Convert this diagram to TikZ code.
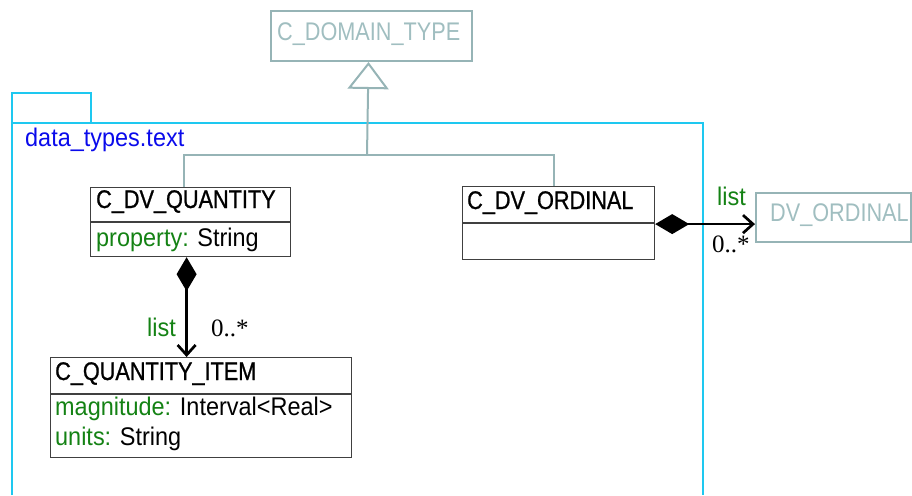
\documentclass[tikz,border=0pt]{standalone}
\usepackage{fontspec}
\setmainfont{Liberation Sans}
\newfontfamily\namefont[FakeStretch=0.85,FakeBold=0.9]{Liberation Sans}
\newfontfamily\ghostfont[FakeStretch=0.85]{Liberation Sans}
\newfontfamily\attrfont[FakeStretch=0.92]{Liberation Sans}
\newfontfamily\multfont{Liberation Serif}
\usetikzlibrary{arrows.meta,calc,positioning}
\definecolor{inhgray}{RGB}{150,180,182}
\definecolor{ghosttext}{RGB}{160,190,192}
\definecolor{pkgcyan}{RGB}{30,200,240}
\definecolor{pkgblue}{RGB}{10,10,235}
\definecolor{attrgreen}{RGB}{20,130,20}
\tikzset{
  clsbox/.style={draw=black!75,line width=1.2pt,inner sep=0pt,anchor=north west},
  ghostbox/.style={draw=inhgray,line width=2pt,inner sep=0pt,anchor=north west},
  clsname/.style={inner sep=0pt,anchor=base west,font=\namefont\fontsize{25.5}{30}\selectfont},
  ghostname/.style={inner sep=0pt,anchor=base west,text=ghosttext,font=\ghostfont\fontsize{25.5}{30}\selectfont},
  attr/.style={inner sep=0pt,anchor=base west,font=\attrfont\fontsize{25.5}{30}\selectfont},
  role/.style={attr,text=attrgreen},
  mult/.style={inner sep=0pt,anchor=base west,font=\multfont\fontsize{25}{30}\selectfont},
  divider/.style={draw=black!75,line width=1.2pt},
  inh/.style={draw=inhgray,line width=2pt},
  comp/.style={line width=2.7pt,{Diamond[length=34pt,width=20pt]}-{Straight Barb[length=10pt,width=18pt]}},
  pkg/.style={draw=pkgcyan,line width=2pt}
}
\newcommand{\attrline}[2]{{\color{attrgreen}#1:} #2}
\begin{document}
\begin{tikzpicture}[x=1pt,y=-1pt]
\useasboundingbox (0,0) rectangle (912,495);
% package frame
\draw[pkg] (12,123) |- (91,93) -- (91,123);
\draw[pkg] (12,495) |- (703,123) -- (703,495);
\node[attr,text=pkgblue] (pkgname) at (25,146) {data\_types.text};
% classes
\node[ghostbox,minimum width=201pt,minimum height=50pt] (domain) at (270,10) {};
\node[ghostname] (domainname) at (277,41) {C\_DOMAIN\_TYPE};
\node[clsbox,minimum width=200pt,minimum height=69pt] (qty) at (90,187) {};
\draw[divider] (qty.north west) ++(0,35) -- ++(200,0);
\node[clsname] (qtyname) at (96,208) {C\_DV\_QUANTITY};
\node[attr] (qtyattr) at (96,246) {\attrline{property}{String}};
\node[clsbox,minimum width=192pt,minimum height=73pt] (ord) at (462,186) {};
\draw[divider] (ord.north west) ++(0,37) -- ++(192,0);
\node[clsname] (ordname) at (467,209) {C\_DV\_ORDINAL};
\node[clsbox,minimum width=301pt,minimum height=100pt] (item) at (50,357) {};
\draw[divider] (item.north west) ++(0,37) -- ++(301,0);
\node[clsname] (itemname) at (55,380) {C\_QUANTITY\_ITEM};
\node[attr] (itemattr1) at (55,415) {\attrline{magnitude}{Interval<Real>}};
\node[attr] (itemattr2) at (55,445) {\attrline{units}{String}};
\node[ghostbox,minimum width=155pt,minimum height=49pt] (dvord) at (755,192) {};
\node[ghostname] (dvordname) at (770,221) {DV\_ORDINAL};
% inheritance
\coordinate (join) at (367,155);
\draw[inh] ([xshift=-7pt]qty.north) |- (join) -| ([xshift=-5pt]ord.north);
\draw[inh,-{Triangle[open,fill=white,length=27pt,width=41pt]}] (join) -- ([xshift=-3pt]domain.south);
% associations
\draw[comp] ([xshift=-4pt]qty.south) -- ([xshift=-4pt]qty.south |- item.north);
\node[role] (qtyrole) at (147,336) {list};
\node[mult] (qtymult) at (211,336) {0..*};
\draw[comp] ([yshift=-1pt]ord.east) -- ([yshift=-1pt]ord.east -| dvord.west);
\node[role] (ordrole) at (717,205) {list};
\node[mult] (ordmult) at (712,252) {0..*};
\end{tikzpicture}
\end{document}
